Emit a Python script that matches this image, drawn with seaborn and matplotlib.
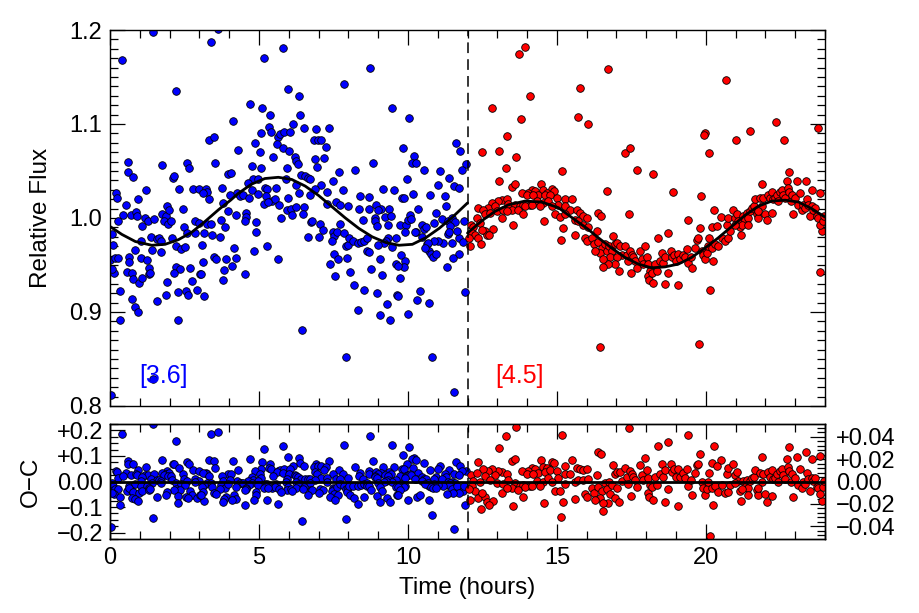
import numpy as np
import pandas as pd
import matplotlib
matplotlib.use("Agg")
import matplotlib.pyplot as plt
import seaborn as sns
from matplotlib.ticker import MultipleLocator, FixedLocator, FixedFormatter

# ---------------- data ----------------
blue_time = [
    1.45, 3.39, 0.41, 2.23, 3.33, 3.49, 0.59, 2.57, 2.66, 1.76,
    3.52, 0.62, 0.76, 2.13, 2.16, 3.97, 0.21, 0.25, 1.22, 2.32,
    2.79, 3.00, 3.22, 3.26, 3.75, 0.53, 0.95, 1.90, 2.44, 3.13,
    3.31, 3.80, 0.28, 0.45, 0.71, 0.86, 0.90, 1.17, 1.26, 1.09,
    1.49, 1.76, 1.88, 1.99, 1.82, 1.94, 2.06, 2.49, 2.85, 3.00,
    3.26, 3.38, 3.73, 3.87, 0.08, 1.37, 1.57, 1.66, 1.70, 2.07,
    2.57, 2.85, 3.17, 3.43, 3.70, 0.11, 1.03, 1.41, 1.70, 2.22,
    2.37, 2.53, 3.09, 0.00, 0.17, 0.28, 0.64, 0.85, 1.03, 1.24,
    1.32, 2.20, 2.36, 2.70, 3.11, 3.48, 3.56, 3.88, 3.81, 0.13,
    0.06, 0.57, 0.73, 0.65, 0.78, 0.97, 1.07, 1.31, 1.35, 2.16,
    1.91, 2.76, 2.55, 2.61, 2.28, 1.87, 1.57, 2.92, 3.14, 3.01,
    3.05, 3.80, 0.32, 0.75, 0.83, 0.93, 0.34, 2.27, 1.43, 0.03,
    3.61,
    5.80, 5.16, 5.96, 6.33, 7.84, 4.70, 5.10, 5.38, 6.39, 4.14,
    6.13, 5.33, 6.52, 6.91, 7.34, 5.06, 5.41, 5.65, 5.71, 5.85,
    6.05, 6.84, 6.99, 7.08, 7.26, 4.88, 5.59, 5.82, 6.02, 5.02,
    4.29, 5.46, 6.20, 6.23, 6.31, 7.17, 6.88, 4.75, 5.07, 5.93,
    6.95, 4.05, 7.69, 6.41, 6.54, 6.66, 6.70, 4.81, 4.96, 5.90,
    4.62, 7.47, 7.09, 5.20, 5.27, 5.57, 6.24, 6.88, 4.25, 4.41,
    4.36, 4.75, 4.96, 5.99, 6.34, 6.73, 7.30, 7.81, 4.03, 4.48,
    4.67, 5.25, 5.43, 5.54, 5.68, 5.18, 7.60, 7.72, 7.30, 8.00,
    3.95, 4.23, 4.56, 4.58, 4.53, 4.90, 5.31, 5.95, 6.09, 6.23,
    6.11, 6.50, 6.48, 5.74, 6.75, 6.79, 7.05, 7.15, 6.66, 7.01,
    7.47, 7.52, 7.44, 7.62, 7.72, 7.86, 7.93, 8.00, 4.90, 5.27,
    4.84, 5.63, 4.17, 4.22, 4.11, 4.52, 7.53, 7.39, 7.64, 7.56,
    7.95, 8.07, 6.43, 7.92,
    8.73, 9.47, 10.05, 9.82, 11.61, 11.75, 10.20, 8.83, 10.13, 10.27,
    11.95, 8.21, 10.55, 11.09, 11.80, 9.97, 11.37, 11.00, 11.56, 11.73,
    9.15, 9.54, 9.81, 9.88, 10.17, 8.40, 8.71, 10.73, 11.26, 8.35,
    8.68, 8.93, 9.09, 9.35, 8.99, 11.27, 10.33, 8.91, 8.88, 8.97,
    8.48, 9.22, 9.43, 9.34, 9.73, 9.94, 10.01, 10.08, 10.12, 10.27,
    10.47, 10.53, 10.60, 10.93, 10.86, 11.13, 11.36, 11.49, 11.58, 11.42,
    11.33, 11.38, 11.17, 11.02, 11.49, 11.71, 11.84, 11.65, 11.89, 10.86,
    8.02, 8.14, 8.31, 8.43, 8.52, 8.62, 8.63, 8.71, 9.33, 9.60,
    9.48, 9.26, 9.21, 8.99, 9.90, 10.25, 10.64, 10.66, 10.48, 10.71,
    10.58, 10.77, 10.85, 10.93, 11.70, 11.50, 11.32, 9.77, 9.91, 9.86,
    9.59, 9.66, 9.72, 9.06, 8.77, 9.12, 8.18, 8.54, 8.96, 9.62,
    9.68, 9.30, 10.29, 10.39, 10.71, 9.99, 9.05, 9.41, 8.34, 11.92,
    10.82, 11.54,
]
blue_flux = [
    1.198, 1.187, 1.168, 1.135, 1.083, 1.086, 1.060, 1.059, 1.053, 1.056,
    1.059, 1.049, 1.044, 1.043, 1.045, 1.047, 1.027, 1.021, 1.030, 1.031,
    1.031, 1.031, 1.031, 1.028, 1.032, 1.014, 1.020, 1.013, 1.010, 1.027,
    1.020, 1.016, 0.997, 1.003, 1.003, 1.006, 1.002, 1.000, 0.997, 0.992,
    0.999, 1.004, 1.002, 1.008, 0.997, 0.994, 0.997, 0.990, 0.997, 0.995,
    0.994, 0.994, 0.998, 0.990, 0.983, 0.980, 0.978, 0.979, 0.975, 0.979,
    0.984, 0.984, 0.984, 0.982, 0.980, 0.971, 0.975, 0.966, 0.964, 0.970,
    0.967, 0.969, 0.971, 0.955, 0.957, 0.957, 0.959, 0.966, 0.957, 0.955,
    0.947, 0.948, 0.946, 0.947, 0.953, 0.958, 0.956, 0.956, 0.945, 0.941,
    0.946, 0.943, 0.941, 0.953, 0.935, 0.931, 0.936, 0.940, 0.941, 0.941,
    0.932, 0.933, 0.922, 0.918, 0.921, 0.918, 0.912, 0.923, 0.917, 0.940,
    0.940, 0.934, 0.922, 0.914, 0.905, 0.900, 0.892, 0.891, 0.829, 0.812,
    1.201,
    1.181, 1.170, 1.137, 1.130, 1.143, 1.121, 1.117, 1.110, 1.110, 1.103,
    1.100, 1.097, 1.096, 1.095, 1.096, 1.090, 1.091, 1.086, 1.089, 1.092,
    1.091, 1.083, 1.083, 1.083, 1.075, 1.080, 1.079, 1.074, 1.071, 1.070,
    1.072, 1.065, 1.065, 1.061, 1.057, 1.064, 1.063, 1.055, 1.053, 1.053,
    1.054, 1.048, 1.049, 1.046, 1.045, 1.043, 1.041, 1.042, 1.041, 1.042,
    1.037, 1.039, 1.035, 1.032, 1.031, 1.032, 1.035, 1.031, 1.027, 1.024,
    1.023, 1.030, 1.026, 1.021, 1.027, 1.025, 1.028, 1.030, 1.025, 1.024,
    1.021, 1.023, 1.018, 1.020, 1.014, 1.015, 1.017, 1.014, 1.015, 1.013,
    1.007, 1.003, 1.005, 1.001, 0.997, 0.996, 1.017, 1.009, 1.010, 1.012,
    1.003, 1.012, 1.004, 1.000, 0.996, 0.997, 0.994, 0.987, 0.980, 0.980,
    0.985, 0.981, 0.975, 0.985, 0.994, 0.984, 0.970, 0.971, 0.985, 0.970,
    0.965, 0.956, 0.968, 0.957, 0.949, 0.940, 0.962, 0.951, 0.956, 0.938,
    0.957, 0.943, 0.881, 0.852,
    1.160, 1.117, 1.106, 1.074, 1.080, 1.071, 1.066, 1.059, 1.059, 1.059,
    1.057, 1.051, 1.051, 1.050, 1.051, 1.041, 1.043, 1.035, 1.034, 1.032,
    1.031, 1.030, 1.021, 1.021, 1.026, 1.023, 1.022, 1.025, 1.023, 1.010,
    1.010, 1.014, 1.010, 1.010, 1.008, 1.013, 1.010, 1.000, 0.997, 0.991,
    0.998, 1.001, 1.002, 0.993, 0.993, 0.993, 0.998, 1.003, 0.999, 0.985,
    0.993, 0.988, 0.990, 1.005, 0.995, 0.999, 0.997, 1.000, 0.996, 0.992,
    0.983, 0.985, 0.973, 0.975, 0.973, 0.979, 0.974, 0.986, 0.997, 0.975,
    0.979, 0.975, 0.973, 0.974, 0.975, 0.979, 0.965, 0.964, 0.979, 0.979,
    0.969, 0.975, 0.973, 0.971, 0.985, 0.985, 0.972, 0.973, 0.980, 0.965,
    0.968, 0.962, 0.959, 0.962, 0.962, 0.957, 0.948, 0.961, 0.954, 0.948,
    0.951, 0.949, 0.936, 0.956, 0.946, 0.939, 0.929, 0.923, 0.920, 0.918,
    0.917, 0.909, 0.913, 0.922, 0.910, 0.898, 0.897, 0.891, 0.902, 0.921,
    0.852, 0.815,
]

red_time = [
    13.73, 13.93, 15.78, 14.10, 12.81, 13.80, 15.72, 16.06, 13.32, 12.48,
    13.06, 13.62, 13.28, 15.16, 13.06, 13.48, 13.59, 14.47, 14.52, 14.85,
    14.91, 14.66, 14.15, 14.27, 14.38, 14.04, 13.82, 13.99, 14.21, 14.60,
    14.77, 15.27, 15.50, 14.99, 13.15, 13.32, 13.04, 12.81, 12.70, 12.36,
    12.53, 12.92, 13.37, 13.59, 13.76, 13.87, 14.10, 14.32, 14.55, 14.71,
    15.05, 15.27, 15.44, 15.66, 15.78, 15.89, 16.00, 12.12, 12.20, 12.31,
    12.42, 12.59, 12.76, 12.98, 13.20, 13.48, 13.71, 13.93, 14.15, 14.83,
    14.94, 15.11, 15.27, 15.61, 15.72, 15.89, 16.06, 12.14, 12.25, 12.36,
    12.45, 12.08, 12.59, 12.64, 12.87, 13.15, 13.54, 13.87, 14.58, 15.22,
    15.14, 15.61, 15.94, 16.00, 12.05, 12.50, 12.73, 13.32, 14.43,
    16.71, 17.29, 17.46, 17.68, 18.24, 18.89, 16.67, 19.41, 19.84, 19.97,
    19.95, 20.11, 17.42, 16.39, 16.47, 16.45, 19.78, 20.14,
    16.17, 16.34, 16.26, 16.39, 16.50, 16.45, 16.28, 16.62, 16.67, 16.75,
    16.90, 16.95, 17.01, 16.84, 16.78, 17.12, 17.29, 17.18, 17.01, 16.95,
    17.10, 16.73, 16.56, 16.56, 17.34, 17.46, 17.51, 17.57, 17.62, 17.40,
    17.49, 17.68, 17.79, 17.85, 17.96, 17.90, 18.01, 18.07, 18.13, 18.05,
    18.09, 18.24, 18.18, 18.29, 18.35, 18.38, 18.46, 18.52, 18.57, 18.63,
    18.72, 18.74, 18.83, 18.88, 18.94, 18.99, 19.08, 19.13, 19.25, 19.30,
    19.41, 19.50, 19.55, 19.36, 19.64, 19.69, 19.75, 19.80, 19.86, 19.92,
    19.97, 20.03, 20.08, 20.11, 18.63, 19.08,
    20.67, 21.01, 21.48, 22.34, 22.64, 23.78, 23.83, 20.25, 22.80, 23.36,
    21.90, 23.55, 23.83, 23.89,
    20.20, 20.31, 20.42, 20.29, 20.51, 20.20, 20.36, 20.53, 20.64, 20.76,
    20.81, 20.70, 20.76, 20.92, 20.98, 21.04, 21.09, 21.15, 21.18, 21.26,
    21.32, 21.37, 21.43, 21.48, 21.54, 21.60, 21.65, 21.71, 21.76, 21.82,
    21.87, 21.93, 21.99, 22.04, 22.10, 22.15, 22.21, 22.21, 22.27, 22.32,
    22.38, 22.43, 22.49, 22.55, 22.60, 22.66, 22.71, 22.75, 22.79, 22.86,
    22.90, 22.94, 22.99, 23.05, 23.11, 23.16, 23.22, 23.27, 23.33, 23.39,
    23.44, 23.50, 23.55, 23.61, 23.66, 23.72, 23.78, 23.83, 23.94, 23.98,
    21.20, 20.98, 21.43, 21.76,
]
red_flux = [
    1.174, 1.182, 1.138, 1.130, 1.117, 1.105, 1.107, 1.100, 1.087, 1.070,
    1.071, 1.065, 1.053, 1.050, 1.039, 1.033, 1.036, 1.036, 1.030, 1.031,
    1.029, 1.027, 1.030, 1.029, 1.025, 1.027, 1.027, 1.025, 1.024, 1.024,
    1.024, 1.020, 1.020, 1.021, 1.019, 1.020, 1.018, 1.016, 1.011, 1.011,
    1.009, 1.013, 1.015, 1.014, 1.013, 1.014, 1.014, 1.018, 1.016, 1.018,
    1.014, 1.013, 1.009, 1.009, 1.005, 1.002, 1.000, 0.993, 0.990, 1.000,
    0.995, 1.004, 1.005, 1.007, 1.009, 1.009, 1.009, 1.013, 1.014, 1.013,
    1.004, 1.001, 1.004, 0.998, 0.997, 0.993, 0.990, 0.984, 0.982, 0.979,
    0.972, 0.970, 0.986, 0.982, 0.988, 1.000, 0.993, 1.004, 0.997, 0.989,
    0.977, 0.982, 0.979, 0.975, 0.979, 0.987, 0.982, 1.007, 1.013,
    1.159, 1.069, 1.074, 1.051, 1.047, 1.028, 1.029, 0.998, 1.023, 1.090,
    1.088, 1.069, 1.004, 1.005, 1.002, 0.863, 0.866, 0.923,
    0.979, 0.986, 0.972, 0.974, 0.968, 0.963, 0.965, 0.972, 0.965, 0.970,
    0.981, 0.972, 0.973, 0.965, 0.958, 0.970, 0.970, 0.961, 0.958, 0.951,
    0.944, 0.951, 0.956, 0.948, 0.961, 0.965, 0.961, 0.958, 0.954, 0.954,
    0.942, 0.947, 0.965, 0.956, 0.970, 0.951, 0.959, 0.951, 0.944, 0.938,
    0.934, 0.931, 0.942, 0.951, 0.944, 0.979, 0.954, 0.963, 0.952, 0.958,
    0.984, 0.942, 0.965, 0.958, 0.961, 0.954, 0.962, 0.956, 0.961, 0.958,
    0.952, 0.959, 0.947, 0.967, 0.968, 0.977, 0.979, 0.989, 0.965, 0.961,
    0.956, 0.963, 0.970, 0.979, 0.930, 0.929,
    1.147, 1.083, 1.093, 1.102, 1.083, 1.096, 0.943, 0.954, 1.049, 1.039,
    1.036, 1.030, 1.027, 0.986,
    0.968, 0.972, 0.970, 1.008, 1.001, 0.990, 0.991, 0.979, 0.975, 0.979,
    0.986, 0.993, 1.000, 1.008, 1.000, 1.004, 0.997, 0.990, 0.982, 1.002,
    0.998, 1.005, 1.000, 1.007, 1.011, 1.013, 1.020, 1.004, 1.000, 1.021,
    1.013, 1.021, 1.004, 0.998, 1.025, 1.021, 1.028, 1.005, 1.020, 1.021,
    1.025, 1.018, 1.028, 1.030, 1.025, 1.021, 1.039, 1.032, 1.028, 1.018,
    1.025, 1.004, 1.021, 1.039, 1.014, 1.027, 1.009, 1.014, 1.011, 1.020,
    1.014, 1.002, 1.013, 1.009, 1.011, 1.002, 1.000, 0.993, 0.997, 1.002,
    0.993, 0.993, 0.993, 1.007,
]

# best-fit model curves
blue_model_time = [0.0, 0.4, 0.85, 1.4, 1.85, 2.3, 2.75, 3.2, 3.65, 4.05,
                   4.3, 4.75, 5.2, 5.65, 6.1, 6.55, 7.0, 7.45, 7.9, 8.35,
                   8.8, 9.25, 9.7, 10.15, 10.6, 11.05, 11.5, 12.0]
blue_model_flux = [0.991, 0.9825, 0.975, 0.971, 0.972, 0.977, 0.985, 0.9966, 1.009, 1.019,
                   1.026, 1.036, 1.042, 1.0433, 1.041, 1.034, 1.024, 1.012, 1.000, 0.989,
                   0.980, 0.974, 0.971, 0.972, 0.979, 0.989, 1.001, 1.016]
red_model_time = [12.0, 12.48, 12.92, 13.37, 13.93, 14.49, 15.05, 15.61, 16.05, 16.39,
                  16.84, 17.29, 17.73, 18.18, 18.63, 19.08, 19.52, 19.97, 20.42, 20.87,
                  21.32, 21.76, 22.21, 22.66, 23.11, 23.55, 24.0]
red_model_flux = [0.984, 0.997, 1.007, 1.014, 1.018, 1.017, 1.011, 0.998, 0.988, 0.979,
                  0.968, 0.958, 0.951, 0.947, 0.948, 0.951, 0.958, 0.968, 0.979, 0.991,
                  1.003, 1.0125, 1.018, 1.019, 1.017, 1.010, 1.001]

band_labels = ["[3.6]", "[4.5]"]
xticks = [0, 5, 10, 15, 20]
flux_ticks = [0.8, 0.9, 1.0, 1.1, 1.2]
oc_left_ticks = [-0.2, -0.1, 0.0, 0.1, 0.2]
oc_left_labels = ["\u22120.2", "\u22120.1", "0.00", "+0.1", "+0.2"]
oc_right_ticks = [-0.04, -0.02, 0.0, 0.02, 0.04]
oc_right_labels = ["\u22120.04", "\u22120.02", "0.00", "+0.02", "+0.04"]

# ---------------- frames ----------------
blue_df = pd.DataFrame({"time": blue_time, "flux": blue_flux})
red_df = pd.DataFrame({"time": red_time, "flux": red_flux})
blue_df["oc"] = blue_df["flux"] - np.interp(blue_df["time"], blue_model_time, blue_model_flux)
red_df["oc"] = red_df["flux"] - np.interp(red_df["time"], red_model_time, red_model_flux)
bmod = pd.DataFrame({"time": blue_model_time, "flux": blue_model_flux})
rmod = pd.DataFrame({"time": red_model_time, "flux": red_model_flux})

# ---------------- style ----------------
sns.set_style("ticks")
plt.rcParams["font.family"] = ["Liberation Sans", "DejaVu Sans"]
plt.rcParams["axes.linewidth"] = 1.0
plt.rcParams["axes.edgecolor"] = "black"
plt.rcParams["axes.labelcolor"] = "black"
plt.rcParams["text.color"] = "black"
plt.rcParams["xtick.color"] = "black"
plt.rcParams["ytick.color"] = "black"
FS = 17
LFS = 17.5
TFS = 18

BLUE = "#0000ff"
RED = "#ff0000"
MS = 30
ELW = 0.6

fig = plt.figure(figsize=(9.19, 6.13), dpi=100)
W = 715 / 919
L = 110 / 919
ax1 = fig.add_axes([L, 1 - 406 / 613, W, 376 / 613])
ax2 = fig.add_axes([L, 1 - 539 / 613, W, 115 / 613])
ax2r = ax2.twinx()

# ---- top panel ----
sns.scatterplot(data=blue_df, x="time", y="flux", ax=ax1, color=BLUE, s=MS,
                edgecolor="black", linewidth=ELW, legend=False, zorder=2)
sns.scatterplot(data=red_df, x="time", y="flux", ax=ax1, color=RED, s=MS,
                edgecolor="black", linewidth=ELW, legend=False, zorder=2)
sns.lineplot(data=bmod, x="time", y="flux", ax=ax1, color="black", lw=2.0,
             estimator=None, sort=False, zorder=3)
sns.lineplot(data=rmod, x="time", y="flux", ax=ax1, color="black", lw=2.0,
             estimator=None, sort=False, zorder=3)
ax1.axvline(12, color="black", lw=1.1, dashes=(7, 4), zorder=4)
ax1.set_xlim(0, 24)
ax1.set_ylim(0.8, 1.2)
ax1.set_xticks(xticks)
ax1.xaxis.set_minor_locator(MultipleLocator(1))
ax1.set_yticks(flux_ticks)
ax1.set_yticklabels([f"{v:.1f}" for v in flux_ticks])
ax1.yaxis.set_minor_locator(MultipleLocator(0.01))
ax1.tick_params(which="both", direction="in", top=True, right=True,
                labelbottom=False, labelsize=FS, width=0.9)
ax1.tick_params(which="major", length=11, pad=6)
ax1.tick_params(which="minor", length=5.5)
ax1.set_xlabel("")
ax1.set_ylabel("Relative Flux", fontsize=LFS)
ax1.yaxis.set_label_coords(-58 / 715, 0.5)
ax1.text(1.78, 0.832, band_labels[0], color=BLUE, fontsize=TFS, ha="center", va="center")
ax1.text(13.76, 0.832, band_labels[1], color=RED, fontsize=TFS, ha="center", va="center")

# ---- bottom panel ----
sns.scatterplot(data=blue_df, x="time", y="oc", ax=ax2, color=BLUE, s=MS,
                edgecolor="black", linewidth=ELW, legend=False, zorder=2)
sns.scatterplot(data=red_df, x="time", y="oc", ax=ax2r, color=RED, s=MS,
                edgecolor="black", linewidth=ELW, legend=False, zorder=2)
ax2r.axhline(0, color="black", lw=2.0, zorder=3)
ax2r.axvline(12, color="black", lw=1.1, dashes=(7, 4), zorder=4)
ax2.set_xlim(0, 24)
ax2.set_ylim(-0.225, 0.225)
ax2r.set_ylim(-0.0515, 0.0515)
ax2.set_xticks(xticks)
ax2.set_xticklabels([str(v) for v in xticks])
ax2.xaxis.set_minor_locator(MultipleLocator(1))
ax2.yaxis.set_major_locator(FixedLocator(oc_left_ticks))
ax2.yaxis.set_major_formatter(FixedFormatter(oc_left_labels))
ax2.yaxis.set_minor_locator(MultipleLocator(0.025))
ax2r.yaxis.set_major_locator(FixedLocator(oc_right_ticks))
ax2r.yaxis.set_major_formatter(FixedFormatter(oc_right_labels))
ax2r.yaxis.set_minor_locator(MultipleLocator(0.004))
ax2.tick_params(which="both", direction="in", top=True, right=False,
                labelsize=FS, width=0.9)
ax2.tick_params(which="major", length=11, pad=6)
ax2.tick_params(which="minor", length=5.5)
ax2.tick_params(axis="y", which="major", pad=5)
ax2r.tick_params(which="both", direction="in", labelsize=FS, width=0.9)
ax2r.tick_params(which="major", length=11, pad=8)
ax2r.tick_params(which="minor", length=5.5)
ax2.set_xlabel("Time (hours)", fontsize=LFS)
ax2.xaxis.set_label_coords(0.5, -0.33)
ax2.set_ylabel("O\u2212C", fontsize=LFS)
ax2.yaxis.set_label_coords(-68 / 715, 0.5)
ax2r.set_ylabel("")

fig.savefig("out.png", dpi=100, facecolor="white")
